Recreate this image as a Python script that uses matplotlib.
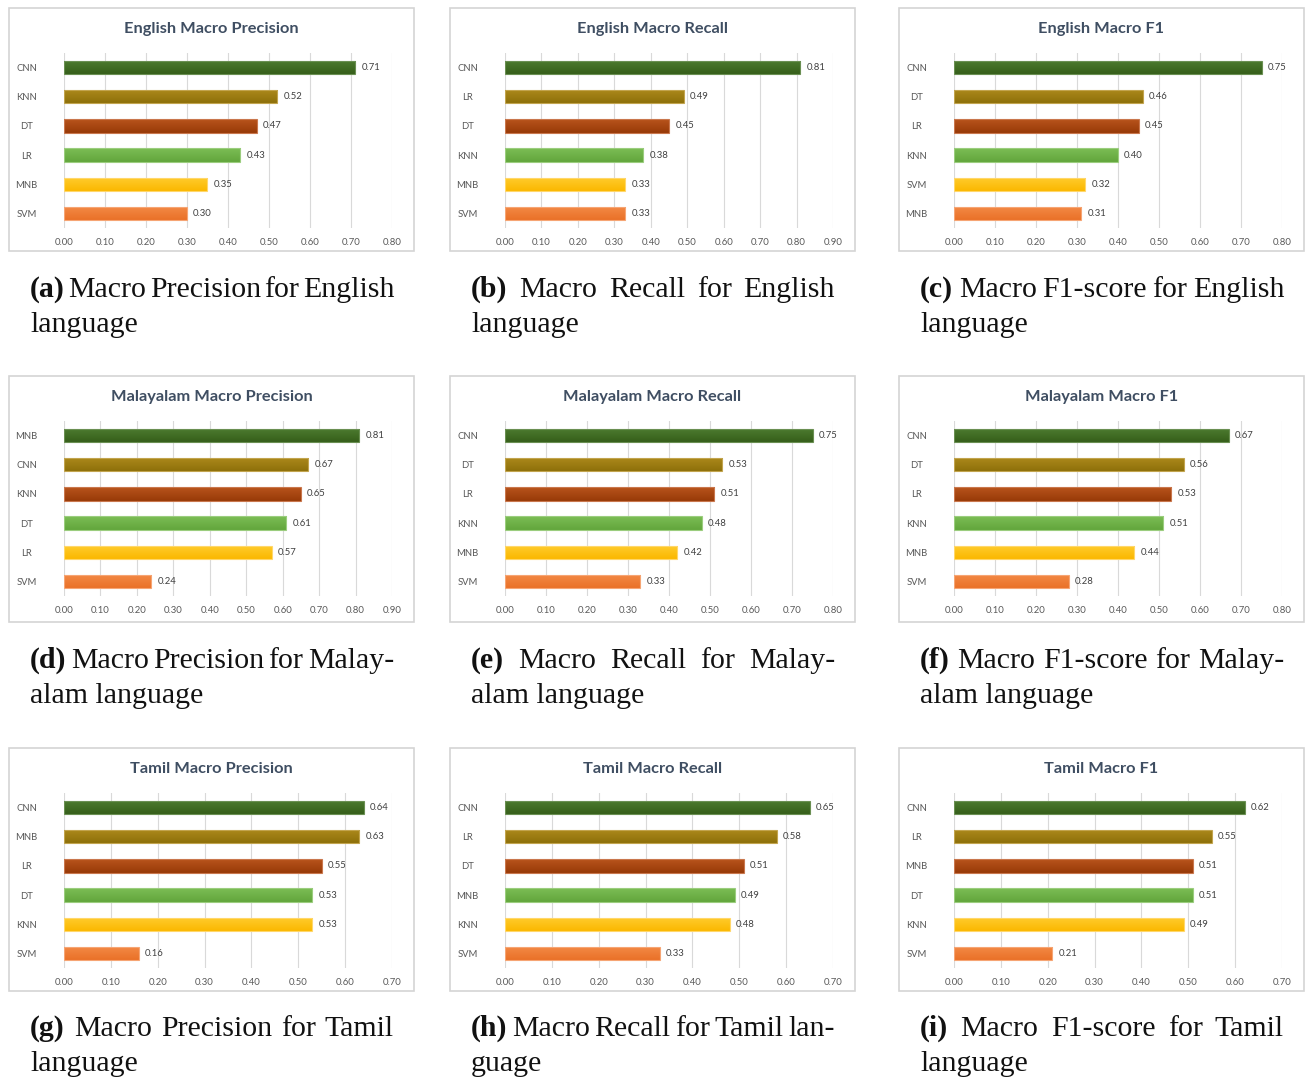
import numpy as np
import matplotlib.pyplot as plt
from matplotlib.patches import Rectangle
from matplotlib.colors import LinearSegmentedColormap

W, H = 1305, 1077

# model names (top to bottom) and scores for each panel
eng_prec_models = ['CNN', 'KNN', 'DT', 'LR', 'MNB', 'SVM']
eng_prec_vals = [0.71, 0.52, 0.47, 0.43, 0.35, 0.30]
eng_rec_models = ['CNN', 'LR', 'DT', 'KNN', 'MNB', 'SVM']
eng_rec_vals = [0.81, 0.49, 0.45, 0.38, 0.33, 0.33]
eng_f1_models = ['CNN', 'DT', 'LR', 'KNN', 'SVM', 'MNB']
eng_f1_vals = [0.75, 0.46, 0.45, 0.40, 0.32, 0.31]

mal_prec_models = ['MNB', 'CNN', 'KNN', 'DT', 'LR', 'SVM']
mal_prec_vals = [0.81, 0.67, 0.65, 0.61, 0.57, 0.24]
mal_rec_models = ['CNN', 'DT', 'LR', 'KNN', 'MNB', 'SVM']
mal_rec_vals = [0.75, 0.53, 0.51, 0.48, 0.42, 0.33]
mal_f1_models = ['CNN', 'DT', 'LR', 'KNN', 'MNB', 'SVM']
mal_f1_vals = [0.67, 0.56, 0.53, 0.51, 0.44, 0.28]

tam_prec_models = ['CNN', 'MNB', 'LR', 'DT', 'KNN', 'SVM']
tam_prec_vals = [0.64, 0.63, 0.55, 0.53, 0.53, 0.16]
tam_rec_models = ['CNN', 'LR', 'DT', 'MNB', 'KNN', 'SVM']
tam_rec_vals = [0.65, 0.58, 0.51, 0.49, 0.48, 0.33]
tam_f1_models = ['CNN', 'LR', 'MNB', 'DT', 'KNN', 'SVM']
tam_f1_vals = [0.62, 0.55, 0.51, 0.51, 0.49, 0.21]

titles = ['English Macro Precision', 'English Macro Recall', 'English Macro F1',
          'Malayalam Macro Precision', 'Malayalam Macro Recall', 'Malayalam Macro F1',
          'Tamil Macro Precision', 'Tamil Macro Recall', 'Tamil Macro F1']
xmaxes = [0.80, 0.90, 0.80, 0.90, 0.80, 0.80, 0.70, 0.70, 0.70]

captions = [
    (['(a)', 'Macro', 'Precision', 'for', 'English'], 'language'),
    (['(b)', 'Macro', 'Recall', 'for', 'English'], 'language'),
    (['(c)', 'Macro', 'F1-score', 'for', 'English'], 'language'),
    (['(d)', 'Macro', 'Precision', 'for', 'Malay-'], 'alam language'),
    (['(e)', 'Macro', 'Recall', 'for', 'Malay-'], 'alam language'),
    (['(f)', 'Macro', 'F1-score', 'for', 'Malay-'], 'alam language'),
    (['(g)', 'Macro', 'Precision', 'for', 'Tamil'], 'language'),
    (['(h)', 'Macro', 'Recall', 'for', 'Tamil', 'lan-'], 'guage'),
    (['(i)', 'Macro', 'F1-score', 'for', 'Tamil'], 'language'),
]

panels = [(eng_prec_models, eng_prec_vals), (eng_rec_models, eng_rec_vals), (eng_f1_models, eng_f1_vals),
          (mal_prec_models, mal_prec_vals), (mal_rec_models, mal_rec_vals), (mal_f1_models, mal_f1_vals),
          (tam_prec_models, tam_prec_vals), (tam_rec_models, tam_rec_vals), (tam_f1_models, tam_f1_vals)]

# bar colours by rank (top, bottom of gradient) - excel style
bar_top = ['#4d7c30', '#ad8a1c', '#b8541c', '#7cbd55', '#ffcc2e', '#f38a46']
bar_bot = ['#365f1a', '#8e700a', '#983a08', '#62a63c', '#fbb800', '#ea7128']
edge_colors = ['#6a8f52', '#c2a44e', '#c9774d', '#9bcd7e', '#ffd76a', '#f6a574']

col_left = [9, 450, 899]
row_top = [8, 376, 748]
row_h = [243, 246, 243]
box_w = 405
cap_base = [297, 668, 1036]
serif = ['Liberation Serif', 'DejaVu Serif']


def fx(px):
    return px / W


def fy(py):
    return 1 - py / H


fig = plt.figure(figsize=(W / 100, H / 100), dpi=100)
fig.patch.set_facecolor('white')

for i, (models, vals) in enumerate(panels):
    r, c = divmod(i, 3)
    x0, y0, bh = col_left[c], row_top[r], row_h[r]

    # panel frame
    fig.patches.append(Rectangle((fx(x0), fy(y0 + bh)), box_w / W, bh / H,
                                 transform=fig.transFigure, fill=False,
                                 edgecolor='#d4d4d4', lw=1.2))
    fig.text(fx(x0 + box_w / 2), fy(y0 + 21), titles[i], ha='center', va='center',
             fontsize=11.8, fontweight='bold', family='Lato', color='#3f4e62')

    ax = fig.add_axes([fx(x0 + 55), fy(y0 + 220), (box_w - 55 - 22) / W, 175 / H])
    ypos = list(range(len(models)))
    bars = ax.barh(ypos, vals, height=0.46, color='none', edgecolor=edge_colors, lw=0.8, zorder=4)
    for k, b in enumerate(bars):
        cmap = LinearSegmentedColormap.from_list('g', [bar_top[k], bar_bot[k]])
        grad = np.linspace(0, 1, 32).reshape(-1, 1)
        bx, by, bw, bhh = b.get_x(), b.get_y(), b.get_width(), b.get_height()
        im = ax.imshow(grad, cmap=cmap, aspect='auto', extent=(bx, bx + bw, by + bhh, by),
                       origin='upper', zorder=3)
        im.set_clip_path(b)
    for y, v in zip(ypos, vals):
        ax.annotate(f'{v:.2f}', (v, y), xytext=(4.5, 0), textcoords='offset points',
                    va='center', ha='left', fontsize=6.8, family='Lato', color='#404040')
    ax.set_ylim(len(models) - 0.5, -0.5)
    xm = xmaxes[i]
    ax.set_xlim(0, xm)
    ax.set_aspect('auto')
    ticks = [k / 10 for k in range(int(round(xm * 10)) + 1)]
    ax.set_xticks(ticks)
    ax.set_xticklabels([f'{t:.2f}' for t in ticks], fontsize=6.8, family='Lato', color='#595959')
    ax.set_yticks(ypos)
    ax.set_yticklabels(models, fontsize=6.8, family='Lato', color='#595959')
    for lab in ax.get_yticklabels():
        lab.set_horizontalalignment('center')
    ax.tick_params(axis='y', length=0, pad=27)
    ax.tick_params(axis='x', length=0, pad=7)
    ax.grid(axis='x', color='#d9d9d9', lw=0.8, zorder=0)
    for s in ax.spines.values():
        s.set_visible(False)
    ax.set_facecolor('none')

# captions, first line justified like the LaTeX source
fig.canvas.draw()
rend = fig.canvas.get_renderer()
for i, (words, line2) in enumerate(captions):
    r, c = divmod(i, 3)
    xl = col_left[c] + 21
    xr = col_left[c] + box_w - 20
    base = cap_base[r]
    objs = []
    for k, w in enumerate(words):
        t = fig.text(0, fy(base), w, fontsize=21.5, family=serif,
                     fontweight='bold' if k == 0 else 'normal', va='baseline', ha='left',
                     color='#111111')
        objs.append(t)
    widths = [t.get_window_extent(rend).width for t in objs]
    gap = (xr - xl - sum(widths)) / (len(objs) - 1)
    x = xl
    for t, w in zip(objs, widths):
        t.set_x(fx(x))
        x += w + gap
    fig.text(fx(xl), fy(base + 35), line2, fontsize=21.5, family=serif,
             va='baseline', ha='left', color='#111111')

fig.savefig('out.png', dpi=100)
